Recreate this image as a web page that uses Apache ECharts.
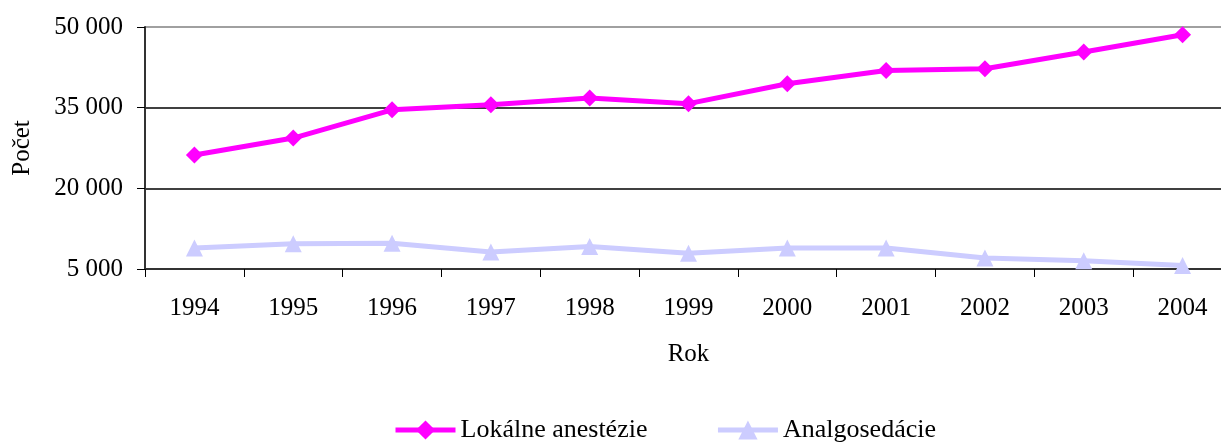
<!DOCTYPE html>
<html>
<head>
<meta charset="utf-8">
<script src="https://cdn.jsdelivr.net/npm/echarts@6/dist/echarts.min.js"></script>
<style>
  html, body { margin: 0; padding: 0; background: #fff; }
  #chart { width: 1221px; height: 442px; }
</style>
</head>
<body>
<div id="chart"></div>
<script>
// data
const years = ['1994', '1995', '1996', '1997', '1998', '1999', '2000', '2001', '2002', '2003', '2004']
const lokalne = [26200, 29350, 34600, 35550, 36800, 35750, 39450, 41900, 42250, 45350, 48550]
const analgo = [8900, 9700, 9800, 8150, 9200, 7950, 8900, 8900, 7050, 6550, 5650]

const font = '"Liberation Serif", "Times New Roman", serif'
const fmt = (v) => String(v).replace(/\B(?=(\d{3})+(?!\d))/g, ' ')

const chart = echarts.init(document.getElementById('chart'))
chart.setOption({
  animation: false,
  textStyle: { fontFamily: font },
  // the plot runs past the right edge of the picture, so don't let it be squeezed in
  grid: {
    left: 145, top: 27, width: 1087, height: 242,
    containLabel: false, outerBoundsMode: 'none'
  },
  legend: {
    left: 388,
    top: 412,
    itemWidth: 60,
    itemHeight: 24,
    itemGap: 68,
    lineStyle: { width: 5 },
    textStyle: { fontFamily: font, fontSize: 26, color: '#000' },
    data: ['Lokálne anestézie', 'Analgosedácie']
  },
  xAxis: {
    type: 'category',
    data: years,
    boundaryGap: true,
    name: 'Rok',
    nameLocation: 'middle',
    nameGap: 73,
    nameTextStyle: { fontFamily: font, fontSize: 25, color: '#000' },
    axisLine: { lineStyle: { color: '#333', width: 2 } },
    axisTick: { show: true, length: 8, lineStyle: { color: '#000' } },
    axisLabel: { color: '#000', fontSize: 25, margin: 27, fontFamily: font }
  },
  yAxis: {
    type: 'value',
    min: 5000,
    max: 50000,
    interval: 15000,
    name: 'Počet',
    nameLocation: 'middle',
    nameGap: 110,
    nameTextStyle: { fontFamily: font, fontSize: 25, color: '#000' },
    axisLine: { show: true, lineStyle: { color: '#333', width: 2 } },
    axisTick: { show: true, length: 8, lineStyle: { color: '#000' } },
    axisLabel: { color: '#000', fontSize: 25, margin: 22, fontFamily: font, formatter: fmt },
    // top line of the plot is grey, inner gridlines black
    splitLine: { lineStyle: { color: ['#333', '#000', '#000', '#808080'], width: 1.5 } }
  },
  series: [
    {
      name: 'Lokálne anestézie',
      type: 'line',
      data: lokalne,
      symbol: 'diamond',
      symbolSize: 17,
      lineStyle: { color: '#FF00FF', width: 5 },
      itemStyle: { color: '#FF00FF' }
    },
    {
      name: 'Analgosedácie',
      type: 'line',
      data: analgo,
      symbol: 'triangle',
      symbolSize: 17,
      lineStyle: { color: '#CCCCFF', width: 5 },
      itemStyle: { color: '#CCCCFF' }
    }
  ]
})
</script>
</body>
</html>
